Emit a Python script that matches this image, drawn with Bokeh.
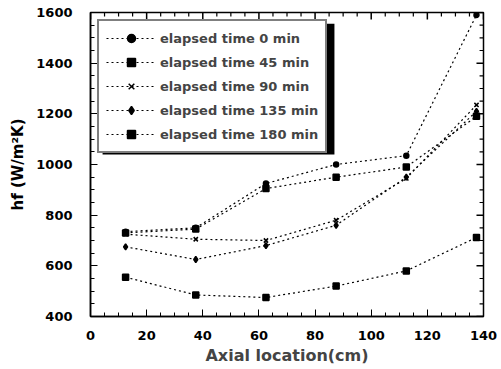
import math
from bokeh.plotting import figure
from bokeh.models import Legend, LegendItem, FixedTicker, BoxAnnotation
from bokeh.embed import file_html
from bokeh.resources import INLINE

axial = [12.5, 37.5, 62.5, 87.5, 112.5, 137.5]
t0 = [735, 750, 925, 1000, 1035, 1590]
t45 = [730, 745, 905, 950, 990, 1190]
t90 = [725, 705, 700, 780, 945, 1235]
t135 = [675, 625, 680, 760, 950, 1210]
t180 = [555, 485, 475, 520, 580, 712]
labels = ["elapsed time 0 min", "elapsed time 45 min", "elapsed time 90 min",
          "elapsed time 135 min", "elapsed time 180 min"]
x_ticks = [0, 20, 40, 60, 80, 100, 120, 140]
x_minor = [v for v in range(0, 141, 5) if v % 20]
y_ticks = [400, 600, 800, 1000, 1200, 1400, 1600]
y_minor = [v for v in range(400, 1601, 50) if v % 200]

FONT = "DejaVu Sans"
X0, X1, Y0, Y1 = 0, 140, 400, 1600
# tick lengths in data units (7 px major, 4 px minor)
TX_MAJ, TX_MIN = 2.5, 1.4
TY_MAJ, TY_MIN = 27.6, 15.8

p = figure(width=501, height=369, output_backend="svg", toolbar_location=None,
           x_range=(X0, X1), y_range=(Y0, Y1),
           min_border_left=90, min_border_right=18, min_border_top=12,
           min_border_bottom=53)
p.grid.visible = False
p.outline_line_color = "black"
p.outline_line_width = 1.5
p.background_fill_color = "white"
p.border_fill_color = "white"

series = [t0, t45, t90, t135, t180]
markers = ["circle", "square", "x", "diamond", "square"]
sizes = [5, 6, 6, 6, 6]
items = []
for vals, mk, sz, lab in zip(series, markers, sizes, labels):
    l = p.line(axial, vals, line_color="black", line_width=1.2, line_dash="2 3")
    s = p.scatter(axial, vals, marker=mk, size=sz, fill_color="black",
                  line_color="black", line_width=1.5)
    items.append(LegendItem(label=lab, renderers=[l, s]))

# inward ticks on the top and right frame edges
p.segment(x0=x_ticks, x1=x_ticks, y0=[Y1] * len(x_ticks),
          y1=[Y1 - TY_MAJ] * len(x_ticks), line_color="black", line_width=1.5)
p.segment(x0=x_minor, x1=x_minor, y0=[Y1] * len(x_minor),
          y1=[Y1 - TY_MIN] * len(x_minor), line_color="black", line_width=1.2)
p.segment(x0=[X1] * len(y_ticks), x1=[X1 - TX_MAJ] * len(y_ticks),
          y0=y_ticks, y1=y_ticks, line_color="black", line_width=1.5)
p.segment(x0=[X1] * len(y_minor), x1=[X1 - TX_MIN] * len(y_minor),
          y0=y_minor, y1=y_minor, line_color="black", line_width=1.2)

for ax in p.xaxis + p.yaxis:
    ax.major_tick_in = 7
    ax.major_tick_out = 0
    ax.minor_tick_in = 4
    ax.minor_tick_out = 0
    ax.axis_line_width = 1.5
    ax.major_label_text_font = FONT
    ax.major_label_text_font_style = "bold"
    ax.major_label_text_font_size = "13px"
    ax.major_label_text_color = "black"

p.xaxis.ticker = FixedTicker(ticks=x_ticks, minor_ticks=x_minor)
p.yaxis.ticker = FixedTicker(ticks=y_ticks, minor_ticks=y_minor)
p.xaxis.major_label_standoff = 14
p.yaxis.major_label_standoff = 18
p.xaxis.axis_label = "Axial location(cm)"
p.xaxis.axis_label_text_font = FONT
p.xaxis.axis_label_text_font_style = "bold"
p.xaxis.axis_label_text_font_size = "16px"
p.xaxis.axis_label_standoff = 3

p.yaxis.axis_label = "hf (W/m²K)"
p.yaxis.axis_label_text_font = FONT
p.yaxis.axis_label_text_font_style = "bold"
p.yaxis.axis_label_text_font_size = "15px"
p.yaxis.axis_label_text_color = "black"
p.yaxis.axis_label_standoff = 6

# legend shadow
p.add_layout(BoxAnnotation(left=4.3, right=86.9, top=1556, bottom=1039,
                           fill_color="black", fill_alpha=1, line_color=None,
                           level="annotation"))

leg = Legend(items=items, location="top_left")
leg.margin = 7
leg.label_text_font = FONT
leg.label_text_font_style = "bold"
leg.label_text_font_size = "13px"
leg.glyph_width = 50
leg.glyph_height = 20
leg.label_height = 20
leg.spacing = 4
leg.padding = 7
leg.label_standoff = 4
leg.border_line_color = "black"
leg.border_line_width = 2
leg.background_fill_color = "white"
leg.background_fill_alpha = 1
p.add_layout(leg)

open("out.html", "w").write(file_html(p, INLINE))
